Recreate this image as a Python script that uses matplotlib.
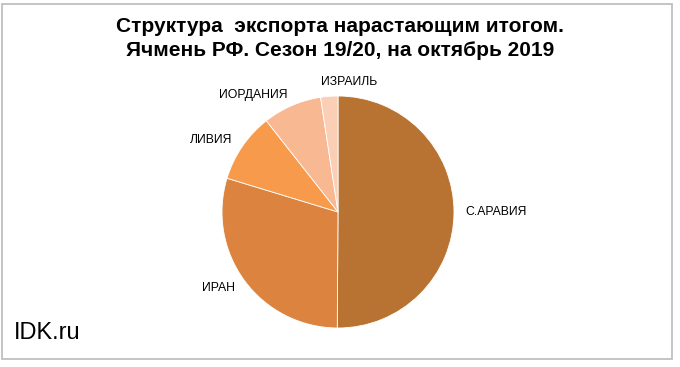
import matplotlib.pyplot as plt
from matplotlib.patches import Rectangle

plt.rcParams['font.family'] = ['Liberation Sans', 'DejaVu Sans']

# Данные (доля экспорта, %)
страны = ["С.АРАВИЯ", "ИРАН", "ЛИВИЯ", "ИОРДАНИЯ", "ИЗРАИЛЬ"]
доли = [50.1, 29.6, 9.7, 8.2, 2.4]
цвета = ["#b87333", "#dc843f", "#f79a4c", "#f8b892", "#fbcfb6"]

fig = plt.figure(figsize=(6.8, 3.67), dpi=100)

# рамка вокруг диаграммы
fig.patches.append(Rectangle((2 / 680, 1 - 359 / 367), 670 / 680, 355 / 367,
                             transform=fig.transFigure, fill=False,
                             edgecolor="#bfbfbf", linewidth=1.3))

fig.text(0.5, 1 - 27 / 367, "Структура  экспорта нарастающим итогом.",
         ha="center", va="center", fontsize=15, fontweight="bold")
fig.text(0.5, 1 - 51 / 367, "Ячмень РФ. Сезон 19/20, на октябрь 2019",
         ha="center", va="center", fontsize=15, fontweight="bold")

ax = fig.add_axes([222 / 680, 39 / 367, 232 / 680, 232 / 367])
wedges, texts = ax.pie(доли, labels=страны, colors=цвета, startangle=90,
                       counterclock=False, labeldistance=1.1,
                       wedgeprops=dict(edgecolor="white", linewidth=0.6),
                       textprops=dict(fontsize=8.8))
# подпись Израиля чуть левее, как в Excel
x, y = texts[-1].get_position()
texts[-1].set_position((x - 0.06, y + 0.02))
texts[-1].set_ha("left")
ax.set_xlim(-1, 1)
ax.set_ylim(-1, 1)
ax.set_aspect("equal")

fig.text(14 / 680, 1 - 333 / 367, "IDK.ru", ha="left", va="center", fontsize=17)

fig.savefig("out.png", dpi=100)
